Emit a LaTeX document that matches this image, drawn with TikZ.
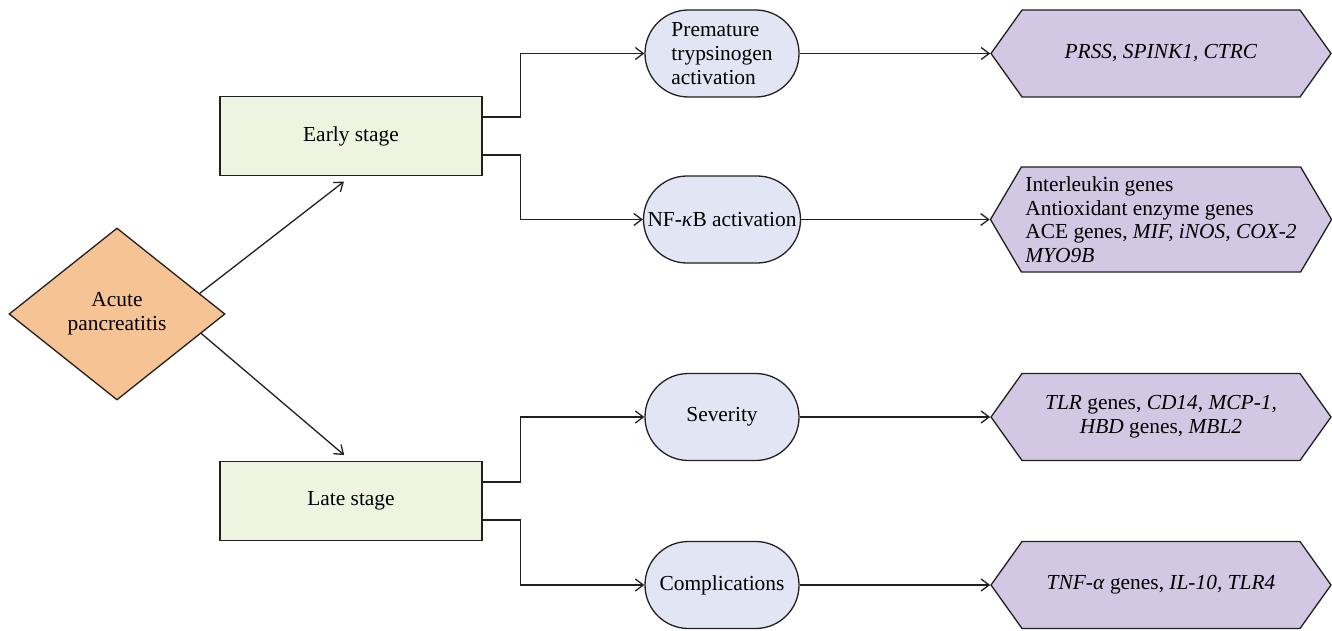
\documentclass[tikz,border=0pt]{standalone}
\usepackage{fontspec}
\setmainfont{Liberation Serif}
\usepackage{xcolor}
\usetikzlibrary{arrows.meta,positioning,shapes.geometric,shapes.symbols}

\definecolor{linec}{HTML}{231F20}
\definecolor{orangefill}{HTML}{F6C394}
\definecolor{stagefill}{HTML}{EFF4E1}
\definecolor{pillfill}{HTML}{E2E5F3}
\definecolor{genefill}{HTML}{D3C8E3}

\begin{document}
\begin{tikzpicture}[
      x=0.5pt, y=-0.5pt,
      font=\fontsize{10.7}{11.8}\selectfont,
      base/.style={draw=linec, line width=0.65pt, align=center, inner sep=2pt},
      disease/.style={base, diamond, aspect=1.25, fill=orangefill,
                      minimum width=108pt, minimum height=86pt, inner sep=0pt},
      stage/.style={base, fill=stagefill, minimum width=131pt,
                    minimum height=39.5pt},
      pill/.style={base, fill=pillfill, rounded corners=21.7pt,
                   minimum width=77pt, minimum height=43.5pt},
      genes/.style={base, signal, signal to=west and east, fill=genefill,
                    signal pointer angle=109,
                    minimum width=170pt, minimum height=43.5pt},
      link/.style={draw=linec, line width=0.65pt,
                   -{Straight Barb[length=4pt,width=6pt]}}]

    \useasboundingbox (0,0) rectangle (1332,631);

    \node[disease] (acute) at (117,314) {Acute\\pancreatitis};

    \node[stage] (early) at (351,136) {Early stage};
    \node[stage] (late) at (351,501) {Late stage};
    \draw[link, shorten >=4.5pt] (acute.14) -- (early.south);
    \draw[link, shorten >=4.5pt] (acute.-13) -- (late.north);

    \node[pill, align=left] (trypsin) at (722,53.5)
      {Premature\\trypsinogen\\activation};
    \node[pill] (nfkb) at (722,219.5) {NF-\textit{κ}B activation};
    \node[pill] (severity) at (722,417) {Severity};
    \node[pill] (complic) at (722,585) {Complications};

    \draw[link] ([yshift=9.5pt]early.east) -- ++(38,0) |- (trypsin.west);
    \draw[link] ([yshift=-9.5pt]early.east) -- ++(38,0) |- (nfkb.west);
    \draw[link] ([yshift=9.5pt]late.east) -- ++(38,0) |- (severity.west);
    \draw[link] ([yshift=-9.5pt]late.east) -- ++(38,0) |- (complic.west);

    \node[genes] (g1) at (1161,53.5) {\textit{PRSS, SPINK1, CTRC}};
    \node[genes, minimum height=52.5pt, signal pointer angle=119,
          align=left] (g2) at (1161,219.5)
      {Interleukin genes\\Antioxidant enzyme genes\\
       ACE genes, \textit{MIF, iNOS, COX-2}\\\textit{MYO9B}};
    \node[genes] (g3) at (1161,417)
      {\textit{TLR} genes, \textit{CD14, MCP-1,}\\\textit{HBD} genes, \textit{MBL2}};
    \node[genes] (g4) at (1161,585)
      {\textit{TNF-α} genes, \textit{IL-10, TLR4}};

    \draw[link] (trypsin.east) -- (g1.west);
    \draw[link] (nfkb.east) -- (g2.west);
    \draw[link] (severity.east) -- (g3.west);
    \draw[link] (complic.east) -- (g4.west);
  \end{tikzpicture}
\end{document}
